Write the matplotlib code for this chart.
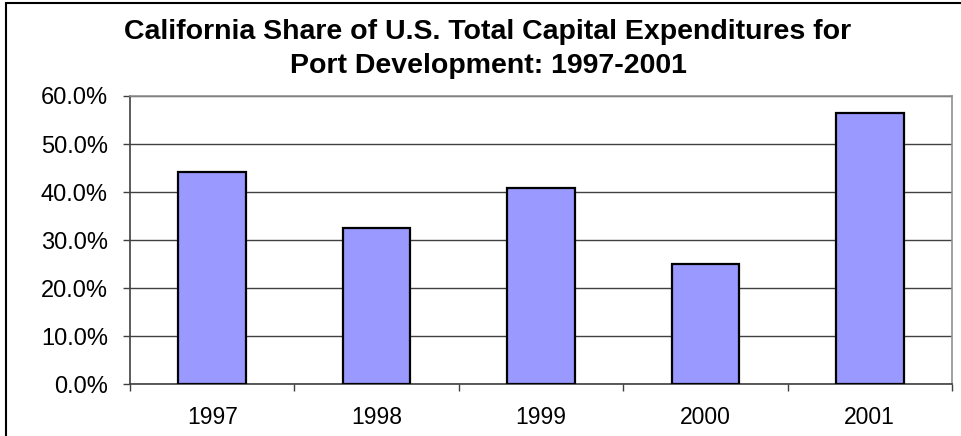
import matplotlib
matplotlib.use("Agg")
import matplotlib.pyplot as plt
from matplotlib.patches import Rectangle
from matplotlib.ticker import FuncFormatter, FixedLocator

years = ["1997", "1998", "1999", "2000", "2001"]
share = [44.2, 32.5, 40.8, 25.0, 56.4]  # percent
title_lines = ["California Share of U.S. Total Capital Expenditures for",
               "Port Development: 1997-2001"]

plt.rcParams["font.family"] = ["Liberation Sans", "DejaVu Sans"]

fig = plt.figure(figsize=(9.61, 4.36), dpi=100)
ax = fig.add_axes([130 / 961, 1 - 384 / 436, 822 / 961, 288 / 436])

x = range(len(years))
ax.bar(x, share, width=0.41, color="#9999FF", edgecolor="black",
       linewidth=1.6, zorder=3)

ax.set_xlim(-0.5, len(years) - 0.5)
ax.set_ylim(0, 60)
ax.set_yticks(range(0, 61, 10))
ax.yaxis.set_major_formatter(FuncFormatter(lambda v, p: f"{v:.1f}%"))
ax.yaxis.grid(True, color="#404040", linewidth=1.0, zorder=1)

ax.set_xticks(list(x))
ax.set_xticklabels(years, fontsize=16.5)
ax.tick_params(axis="x", length=0, pad=16)
ax.xaxis.set_minor_locator(FixedLocator([i - 0.5 for i in range(len(years) + 1)]))
ax.tick_params(axis="x", which="minor", length=5, width=1, color="#404040")
ax.tick_params(axis="y", labelsize=17, length=5, width=1, color="#404040", pad=11)

for side in ["left", "bottom"]:
    ax.spines[side].set_color("#404040")
    ax.spines[side].set_linewidth(1.2)
for side in ["top", "right"]:
    ax.spines[side].set_color("#909090")
    ax.spines[side].set_linewidth(1.2)

fig.text(488 / 961, 1 - 32 / 436, title_lines[0], ha="center", va="center",
         fontsize=20.5, fontweight="bold")
fig.text(488 / 961, 1 - 66 / 436, title_lines[1], ha="center", va="center",
         fontsize=20.5, fontweight="bold")

# outer chart frame (cropped at right and bottom)
fig.patches.append(Rectangle((6 / 961, -0.05), 1.1, 1 - 3 / 436 + 0.05,
                             transform=fig.transFigure, fill=False,
                             edgecolor="black", linewidth=1.5))

fig.savefig("out.png", dpi=100)
